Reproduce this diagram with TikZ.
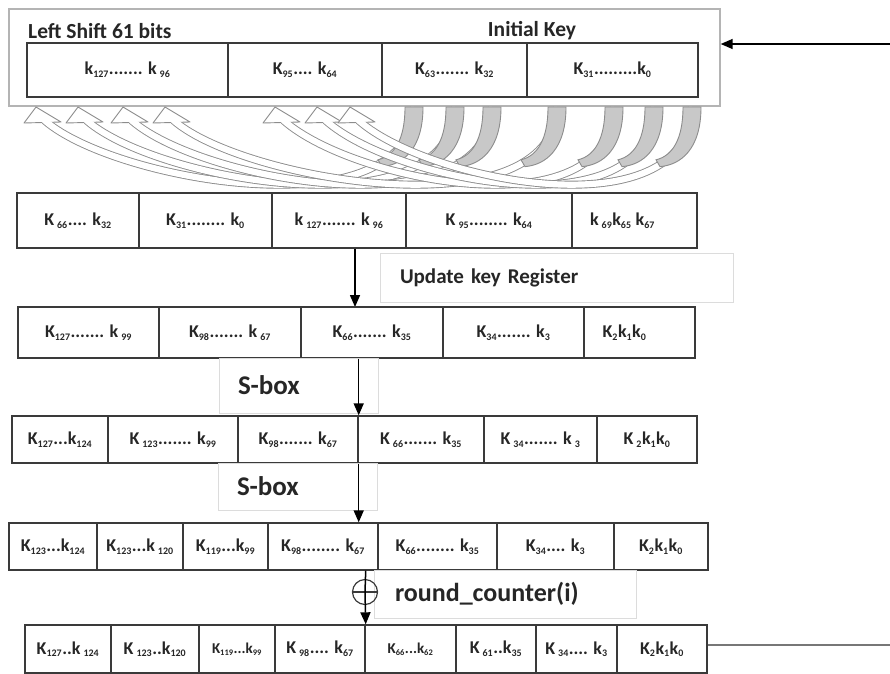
\documentclass[tikz,border=0pt]{standalone}
\usepackage{fontspec}
\setmainfont{Carlito}
\usetikzlibrary{arrows.meta}
\newcommand\ks[1]{\textsubscript{\fontsize{10}{10}\selectfont #1}}
\newcommand\kss[1]{\textsubscript{\fontsize{8.5}{9}\selectfont #1}}
\definecolor{cellline}{HTML}{3A3A3A}
\definecolor{outerline}{HTML}{B4B4B4}
\definecolor{lboxline}{HTML}{DCDCDC}
\definecolor{curveline}{HTML}{8C8C8C}
\definecolor{bandfill}{HTML}{C8C8C8}
\definecolor{txt}{HTML}{262626}
\tikzset{
  cellfont/.style={font=\bfseries\fontsize{18}{20}\selectfont, text=txt},
  cell/.style={draw=cellline, line width=1.4pt, rectangle, inner sep=0pt, cellfont},
  smallcell/.style={cell, font=\bfseries\fontsize{15}{17}\selectfont},
  title/.style={font=\bfseries\fontsize{21.5}{25}\selectfont, text=txt, inner sep=0pt},
  lbox/.style={draw=lboxline, line width=0.8pt, rectangle, inner ysep=0pt, align=left, text=txt},
  varrow/.style={line width=1.5pt, black, -{Triangle[width=10pt,length=12pt]}},
  outerbox/.style={draw=outerline, line width=1.4pt, rectangle, inner sep=0pt},
}
\begin{document}
\begin{tikzpicture}[x=1pt,y=-1pt]
\useasboundingbox (0,0) rectangle (890,673);
% ---------- top register ----------
\node[outerbox, minimum width=711, minimum height=97] (outer) at (364.5,57.5) {};
\node[title, anchor=west] (ls) at (28,31) {Left Shift 61 bits};
\node[title] (ik) at (532,31) {Initial Key};
\node[cell, minimum width=201, minimum height=54] (t1) at (127.5,70) {k\ks{127}....... k\,\ks{96}};
\node[cell, minimum width=154, minimum height=54] (t2) at (305,70) {K\ks{95}.... k\ks{64}};
\node[cell, minimum width=145, minimum height=54] (t3) at (454.5,70) {K\ks{63}....... k\ks{32}};
\node[cell, minimum width=171, minimum height=54] (t4) at (612.5,70) {K\ks{31}.........k\ks{0}};
\coordinate (in) at (890,44);
\draw[varrow] (in) -- (in -| outer.east);
% ---------- curved shift arrows ----------
\foreach \xb/\xh in {414/36, 455/78, 492/123, 557/165, 614/275, 654/317, 692/350}{
  \draw[curveline, line width=8pt] (\xb,107) .. controls ({\xb-3},235) and ({\xh+70},180) .. ({\xh+6},118);
  \draw[draw=curveline, fill=white, line width=0.9pt, line join=round] (\xh,107) -- ({\xh+25},122) -- ({\xh-12},123) -- cycle;
  \draw[white, line width=6.2pt] (\xb,107) .. controls ({\xb-3},235) and ({\xh+70},180) .. ({\xh+6},118);
  \draw[draw=curveline, fill=bandfill, line width=0.9pt] ({\xb-9},107) -- ({\xb+9},107)
     .. controls ({\xb+9},150) and ({\xb-12},165) .. ({\xb-32},166.6) -- ({\xb-36},159.8)
     .. controls ({\xb-20},156) and ({\xb-9},140) .. ({\xb-9},107) -- cycle;
}
% ---------- row 2 ----------
\node[cell, minimum width=122, minimum height=55] (r2c1) at (78,220.5) {K\,\ks{66}.... k\ks{32}};
\node[cell, minimum width=133, minimum height=55] (r2c2) at (205.5,220.5) {K\ks{31}........ k\ks{0}};
\node[cell, minimum width=134, minimum height=55] (r2c3) at (339,220.5) {k\,\ks{127}....... k\,\ks{96}};
\node[cell, minimum width=166, minimum height=55] (r2c4) at (489,220.5) {K\,\ks{95}........ k\ks{64}};
\node[cell, minimum width=125, minimum height=55, label={[xshift=-12pt, cellfont]center:k\,\ks{69}k\ks{65} k\ks{67}}] (r2c5) at (634.5,220.5) {};
\node[lbox, minimum width=353, minimum height=49, inner xsep=20pt, text width=313pt, font=\bfseries\fontsize{21}{24}\selectfont] (upd) at (556.5,277.5) {Update key Register};
\draw[varrow] ([xshift=16pt]r2c3.south) -- ([xshift=16pt]r2c3.south |- 0,307);
% ---------- row 3 ----------
\node[cell, minimum width=141, minimum height=51] (r3c1) at (88.5,332.5) {K\ks{127}....... k\,\ks{99}};
\node[cell, minimum width=142, minimum height=51] (r3c2) at (230,332.5) {K\ks{98}....... k\,\ks{67}};
\node[cell, minimum width=142, minimum height=51] (r3c3) at (372,332.5) {K\ks{66}....... k\ks{35}};
\node[cell, minimum width=141, minimum height=51] (r3c4) at (513.5,332.5) {K\ks{34}....... k\ks{3}};
\node[cell, minimum width=111, minimum height=51, label={[xshift=-15pt, cellfont]center:K\ks{2}k\ks{1}k\ks{0}}] (r3c5) at (639.5,332.5) {};
\node[lbox, minimum width=159, minimum height=55, inner xsep=19pt, text width=121pt, font=\bfseries\fontsize{27}{30}\selectfont] (sb1) at (298.5,385.5) {S-box};
% ---------- row 4 ----------
\node[cell, minimum width=96, minimum height=47] (r4c1) at (60,439.5) {K\ks{127}...k\ks{124}};
\node[cell, minimum width=130, minimum height=47] (r4c2) at (173,439.5) {K\,\ks{123}....... k\ks{99}};
\node[cell, minimum width=120, minimum height=47] (r4c3) at (298,439.5) {K\ks{98}....... k\ks{67}};
\node[cell, minimum width=126, minimum height=47] (r4c4) at (421,439.5) {K\,\ks{66}....... k\ks{35}};
\node[cell, minimum width=113, minimum height=47] (r4c5) at (540.5,439.5) {K\,\ks{34}....... k\,\ks{3}};
\node[cell, minimum width=100, minimum height=47] (r4c6) at (647,439.5) {K\,\ks{2}k\ks{1}k\ks{0}};
\draw[varrow] (r3c3.south -| r4c3.east) -- (r4c3.north east);
\node[lbox, minimum width=159, minimum height=47, inner xsep=19pt, text width=121pt, font=\bfseries\fontsize{27}{30}\selectfont] (sb2) at (297.5,486.5) {S-box};
% ---------- row 5 ----------
\node[cell, minimum width=88, minimum height=47] (r5c1) at (53,546.5) {K\ks{123}...k\ks{124}};
\node[cell, minimum width=86, minimum height=47] (r5c2) at (140,546.5) {K\ks{123}...k\,\ks{120}};
\node[cell, minimum width=85, minimum height=47] (r5c3) at (225.5,546.5) {K\ks{119}...k\ks{99}};
\node[cell, minimum width=110, minimum height=47] (r5c4) at (323,546.5) {K\ks{98}........ k\ks{67}};
\node[cell, minimum width=119, minimum height=47] (r5c5) at (437.5,546.5) {K\ks{66}........ k\ks{35}};
\node[cell, minimum width=117, minimum height=47] (r5c6) at (555.5,546.5) {K\ks{34}.... k\ks{3}};
\node[cell, minimum width=94, minimum height=47] (r5c7) at (661,546.5) {K\ks{2}k\ks{1}k\ks{0}};
\draw[varrow] (r4c3.south east) -- (r4c3.south east |- r5c1.north);
\node[lbox, minimum width=262, minimum height=48, inner xsep=21pt, text width=220pt, font=\bfseries\fontsize{26}{29}\selectfont] (rc) at (505,594) {round\_counter(i)};
% ---------- row 6 ----------
\node[cell, minimum width=86, minimum height=48] (r6c1) at (68,649) {K\ks{127}..k\,\ks{124}};
\node[cell, minimum width=88, minimum height=48] (r6c2) at (155,649) {K\,\ks{123}..k\ks{120}};
\node[smallcell, minimum width=76, minimum height=48] (r6c3) at (237,649) {K\kss{119}...k\kss{99}};
\node[cell, minimum width=90, minimum height=48] (r6c4) at (320,649) {K\,\ks{98}.... k\ks{67}};
\node[smallcell, minimum width=91, minimum height=48] (r6c5) at (410.5,649) {K\kss{66}...k\kss{62}};
\node[cell, minimum width=80, minimum height=48] (r6c6) at (496,649) {K\,\ks{61}..k\ks{35}};
\node[cell, minimum width=81, minimum height=48] (r6c7) at (576.5,649) {K\,\ks{34}.... k\ks{3}};
\node[cell, minimum width=90, minimum height=48] (r6c8) at (662,649) {K\ks{2}k\ks{1}k\ks{0}};
% XOR and round counter
\node[circle, draw=cellline, line width=1.2pt, minimum size=25pt, inner sep=0pt] (xor) at (365,592) {};
\draw[cellline, line width=1.2pt] (xor.west) -- (xor.east);
\draw[line width=1.5pt, black] (r6c4.north east |- r5c4.south) -- (xor.center);
\draw[varrow] (xor.center) -- (r6c4.north east);
\coordinate (out) at (890,645);
\draw[line width=1.6pt, color=curveline!85!black] (r6c8.east |- out) -- (out);
\end{tikzpicture}
\end{document}
